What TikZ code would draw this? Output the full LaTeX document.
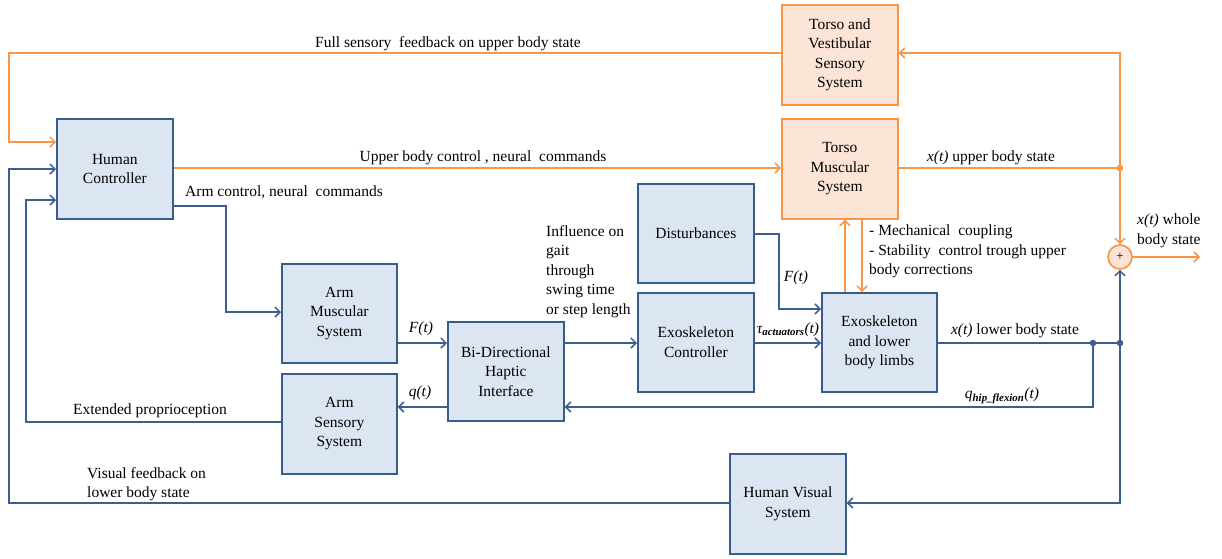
\documentclass[tikz,border=0pt]{standalone}
\usepackage{fontspec}
\setmainfont{Liberation Serif}
\usetikzlibrary{arrows.meta,calc}
\definecolor{bfill}{HTML}{DCE6F2}
\definecolor{bdraw}{HTML}{385D8A}
\definecolor{bline}{HTML}{3B5F8E}
\definecolor{ofill}{HTML}{FCE4D6}
\definecolor{odraw}{HTML}{F79646}
\begin{document}
\begin{tikzpicture}[x=1pt,y=-1pt,
  font=\fontsize{15.5}{19.5}\selectfont,
  box/.style={line width=1.7pt, align=center, inner sep=0pt, anchor=north west,
    minimum width=#1, minimum height=100pt},
  bbox/.style={box=#1, draw=bdraw, fill=bfill},
  obox/.style={box=#1, draw=odraw, fill=ofill},
  tip/.style={-{Straight Barb[length=5pt,width=10pt,line width=1.5pt]}},
  bl/.style={draw=bline, line width=1.6pt},
  ol/.style={draw=odraw, line width=1.6pt},
  ba/.style={bl, tip},
  oa/.style={ol, tip},
  lab/.style={inner sep=0pt},
  dotb/.style={fill=bline, circle, inner sep=0pt, minimum size=6.5pt},
  doto/.style={fill=odraw, circle, inner sep=0pt, minimum size=6.5pt}
]
\useasboundingbox (0,0) rectangle (1222,558);

% boxes
\node[bbox=116pt] (HC) at (56,118) {Human\\Controller};
\node[obox=116pt] (TV) at (781,4) {Torso and\\Vestibular\\Sensory\\System};
\node[obox=116pt] (TM) at (781,118) {Torso\\Muscular\\System};
\node[bbox=116pt, minimum height=99pt] (DI) at (637,183) {Disturbances};
\node[bbox=115pt, minimum height=99pt] (AM) at (281,263) {Arm\\Muscular\\System};
\node[bbox=116pt, minimum height=99pt] (BD) at (447,321) {Bi-Directional\\Haptic\\Interface};
\node[bbox=116pt, minimum height=99pt] (EC) at (637,292) {Exoskeleton\\Controller};
\node[bbox=115pt, minimum height=99pt] (EX) at (821,292) {Exoskeleton\\and lower\\body limbs};
\node[bbox=115pt] (AS) at (281,373) {Arm\\Sensory\\System};
\node[bbox=116pt] (HV) at (729,453) {Human Visual\\System};
\node[circle, draw=odraw, fill=ofill, line width=1.7pt, minimum size=24pt, inner sep=0pt,
  font=\fontsize{13}{15}\selectfont] (SUM) at (1120,257) {+};

% junctions
\coordinate (JU) at (1120,168);
\coordinate (JL) at (1120,343);
\coordinate (JQ) at (1093,343);
\coordinate (OUT) at (1200,257);

% orange connectors
\draw[oa] (TV.west |- 0,53) -- (9,53) -- (9,142) -- (HC.west |- 0,142);
\draw[oa] (HC.east |- 0,168) -- (TM.west |- 0,168);
\draw[ol] (TM.east |- 0,168) -- (JU);
\draw[oa] (JU) -- (1120,53) -- (TV.east |- 0,53);
\draw[oa] (JU) -- (SUM.north);
\draw[oa] (SUM.east) -- (OUT);
\draw[oa] (EX.north -| 845,0) -- (TM.south -| 845,0);
\draw[oa] (TM.south -| 862,0) -- (EX.north -| 862,0);

% blue connectors
\draw[ba] (HC.east |- 0,206) -- (226,206) -- (226,312) -- (AM.west |- 0,312);
\draw[ba] (AM.east |- 0,343) -- (BD.west |- 0,343);
\draw[ba] (BD.west |- 0,407) -- (AS.east |- 0,407);
\draw[ba] (AS.west |- 0,422) -- (26,422) -- (26,200) -- (HC.west |- 0,200);
\draw[ba] (BD.east |- 0,343) -- (EC.west |- 0,343);
\draw[ba] (EC.east |- 0,343) -- (EX.west |- 0,343);
\draw[ba] (DI.east |- 0,234) -- (779,234) -- (779,309) -- (EX.west |- 0,309);
\draw[bl] (EX.east |- 0,343) -- (JL);
\draw[ba] (JL) -- (SUM.south);
\draw[ba] (JQ) -- (1093,407) -- (BD.east |- 0,407);
\draw[ba] (JL) -- (1120,503) -- (HV.east |- 0,503);
\draw[ba] (HV.west |- 0,503) -- (9,503) -- (9,169) -- (HC.west |- 0,169);

\node[doto] at (JU) {};
\node[dotb] at (JL) {};
\node[dotb] at (JQ) {};

% labels
\node[lab] (l1) at (448,44) {Full sensory\ \ feedback on upper body state};
\node[lab] (l2) at (483,158) {Upper body control\ , neural\ \ commands};
\node[lab, anchor=west] (l3) at (185,192) {Arm control, neural\ \ commands};
\node[lab, anchor=north west, align=left] (l4) at (546,225) {Influence on\\gait\\through\\swing time\\or step length};
\node[lab, anchor=north west, align=left] (l5) at (869,225) {- Mechanical\ \ coupling\\- Stability\ \ control trough upper\\body corrections};
\node[lab] (l6) at (991,158) {\textit{x(t)} upper body state};
\node[lab, anchor=north west, align=left] (l7) at (1137,214) {\textit{x(t)} whole\\body state};
\node[lab] (l8) at (421,329) {\textit{F(t)}};
\node[lab] (l9) at (420,393) {\textit{q(t)}};
\node[lab] (l10) at (796,278) {\textit{F(t)}};
\node[lab] (l11) at (788,330) {\textit{τ\textsubscript{\textbf{actuators}}(t)}};
\node[lab] (l12) at (1015,331) {\textit{x(t)} lower body state};
\node[lab] (l13) at (1002,396) {\textit{q\textsubscript{\textbf{hip\_flexion}}(t)}};
\node[lab] (l14) at (150,411) {Extended proprioception};
\node[lab, anchor=north west, align=left] (l15) at (87,467) {Visual feedback on\\lower body state};
\end{tikzpicture}
\end{document}
